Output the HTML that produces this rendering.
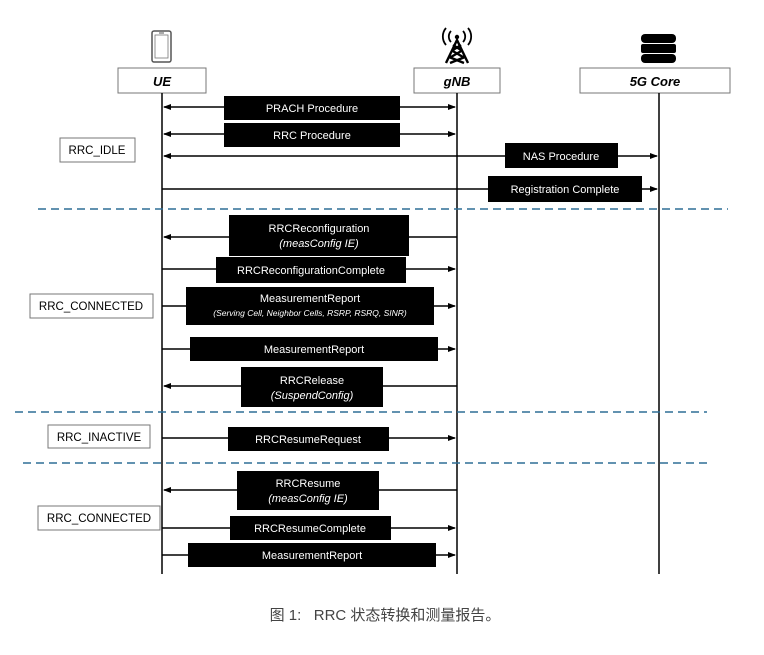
<!DOCTYPE html>
<html><head><meta charset="utf-8"><style>
body{margin:0;background:#fff;width:764px;height:650px;overflow:hidden}
svg text{font-family:"Liberation Sans",sans-serif}
</style></head><body>
<svg width="764" height="650" viewBox="0 0 764 650" xmlns="http://www.w3.org/2000/svg">
<defs>
<marker id="a" markerWidth="8" markerHeight="8" refX="7" refY="4" orient="auto-start-reverse" markerUnits="userSpaceOnUse"><path d="M0,1 L8,4 L0,7 z" fill="#000"/></marker>
</defs>
<!-- icons -->
<rect x="152" y="31" width="19" height="31" rx="2" fill="none" stroke="#555" stroke-width="1.5"/>
<rect x="155" y="35" width="13" height="23" fill="none" stroke="#777" stroke-width="0.8"/>
<line x1="159" y1="33" x2="164" y2="33" stroke="#555"/>
<g stroke="#000" stroke-width="2.4" fill="none">
<path d="M446,63 L457,40 L468,63 M449,57 L464,63 M465,57 L450,63 M451,50 L463,57 M463,50 L451,57 M453,45 L461,50 M461,45 L453,50"/>
<path d="M451,31 a8,8 0 0 0 0,11 M446,28 a13,13 0 0 0 0,17 M463,31 a8,8 0 0 1 0,11 M468,28 a13,13 0 0 1 0,17" stroke-width="1.8"/>
</g>
<circle cx="457" cy="37" r="2.2" fill="#000"/>
<g fill="#000">
<rect x="641" y="34" width="35" height="9" rx="4"/>
<rect x="641" y="44" width="35" height="9" rx="2"/>
<rect x="641" y="54" width="35" height="9" rx="4"/>
</g>
<!-- header boxes -->
<g fill="#fff" stroke="#777" stroke-width="1">
<rect x="118" y="68" width="88" height="25"/>
<rect x="414" y="68" width="86" height="25"/>
<rect x="580" y="68" width="150" height="25"/>
</g>
<g font-size="13" font-weight="bold" font-style="italic" text-anchor="middle">
<text x="162" y="86">UE</text><text x="457" y="86">gNB</text><text x="655" y="86">5G Core</text>
</g>
<!-- lifelines -->
<g stroke="#000" stroke-width="1.5">
<line x1="162" y1="93" x2="162" y2="574"/><line x1="457" y1="93" x2="457" y2="574"/><line x1="659" y1="93" x2="659" y2="574"/>
</g>
<!-- dashed -->
<g stroke="#2e6e96" stroke-width="1.5" stroke-dasharray="8,5">
<line x1="38" y1="209" x2="728" y2="209"/><line x1="15" y1="412" x2="707" y2="412"/><line x1="23" y1="463" x2="712" y2="463"/>
</g>
<!-- arrows -->
<g stroke="#000" stroke-width="1.5" fill="none">
<line x1="164" y1="107" x2="455" y2="107" marker-start="url(#a)" marker-end="url(#a)"/>
<line x1="164" y1="134" x2="455" y2="134" marker-start="url(#a)" marker-end="url(#a)"/>
<line x1="164" y1="156" x2="657" y2="156" marker-start="url(#a)" marker-end="url(#a)"/>
<line x1="162" y1="189" x2="657" y2="189" marker-end="url(#a)"/>
<line x1="457" y1="237" x2="164" y2="237" marker-end="url(#a)"/>
<line x1="162" y1="269" x2="455" y2="269" marker-end="url(#a)"/>
<line x1="162" y1="306" x2="455" y2="306" marker-end="url(#a)"/>
<line x1="162" y1="349" x2="455" y2="349" marker-end="url(#a)"/>
<line x1="457" y1="386" x2="164" y2="386" marker-end="url(#a)"/>
<line x1="162" y1="438" x2="455" y2="438" marker-end="url(#a)"/>
<line x1="457" y1="490" x2="164" y2="490" marker-end="url(#a)"/>
<line x1="162" y1="528" x2="455" y2="528" marker-end="url(#a)"/>
<line x1="162" y1="555" x2="455" y2="555" marker-end="url(#a)"/>
</g>
<!-- black boxes -->
<g fill="#000">
<rect x="224" y="96" width="176" height="24"/>
<rect x="224" y="123" width="176" height="24"/>
<rect x="505" y="143" width="113" height="25"/>
<rect x="488" y="176" width="154" height="26"/>
<rect x="229" y="215" width="180" height="41"/>
<rect x="216" y="257" width="190" height="26"/>
<rect x="186" y="287" width="248" height="38"/>
<rect x="190" y="337" width="248" height="24"/>
<rect x="241" y="367" width="142" height="40"/>
<rect x="228" y="427" width="161" height="24"/>
<rect x="237" y="471" width="142" height="39"/>
<rect x="230" y="516" width="161" height="24"/>
<rect x="188" y="543" width="248" height="24"/>
</g>
<g fill="#fff" font-size="11" text-anchor="middle">
<text x="312" y="112">PRACH Procedure</text>
<text x="312" y="139">RRC Procedure</text>
<text x="561" y="160">NAS Procedure</text>
<text x="565" y="193">Registration Complete</text>
<text x="319" y="232">RRCReconfiguration</text>
<text x="319" y="247" font-style="italic">(measConfig IE)</text>
<text x="311" y="274">RRCReconfigurationComplete</text>
<text x="310" y="302">MeasurementReport</text>
<text x="310" y="316" font-style="italic" font-size="8.5">(Serving Cell, Neighbor Cells, RSRP, RSRQ, SINR)</text>
<text x="314" y="353">MeasurementReport</text>
<text x="312" y="384">RRCRelease</text>
<text x="312" y="399" font-style="italic">(SuspendConfig)</text>
<text x="308" y="443">RRCResumeRequest</text>
<text x="308" y="487">RRCResume</text>
<text x="308" y="502" font-style="italic">(measConfig IE)</text>
<text x="310" y="532">RRCResumeComplete</text>
<text x="312" y="559">MeasurementReport</text>
</g>
<!-- state labels -->
<g fill="#fff" stroke="#777">
<rect x="60" y="138" width="75" height="24"/>
<rect x="30" y="294" width="123" height="24"/>
<rect x="48" y="425" width="102" height="23"/>
<rect x="38" y="506" width="122" height="24"/>
</g>
<g font-size="11.5" text-anchor="middle" fill="#000">
<text x="97" y="154">RRC_IDLE</text>
<text x="91" y="310">RRC_CONNECTED</text>
<text x="99" y="441">RRC_INACTIVE</text>
<text x="99" y="522">RRC_CONNECTED</text>
</g>
<text x="385" y="620" font-size="15" text-anchor="middle" fill="#444" xml:space="preserve" style="font-family:'Liberation Sans','Noto Sans CJK SC',sans-serif;white-space:pre">图 1:   RRC 状态转换和测量报告。</text>
</svg>
</body></html>
